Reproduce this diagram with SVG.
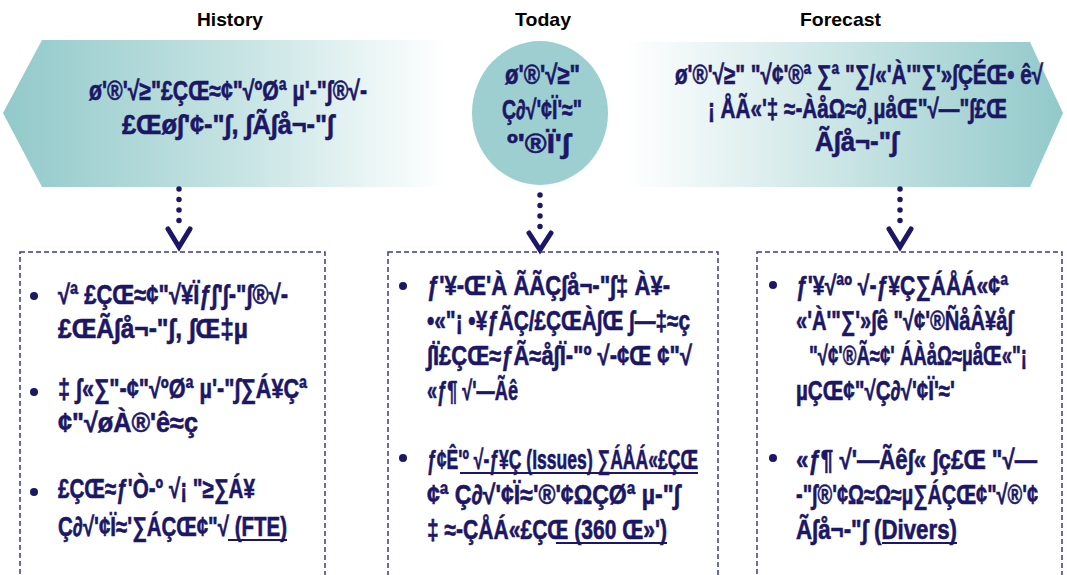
<svg xmlns="http://www.w3.org/2000/svg" width="1067" height="575" viewBox="0 0 1067 575">
<defs>
<style>
.hd{font-family:"Liberation Sans",Arial,sans-serif;font-weight:bold;font-size:19px;fill:#000}
.t{font-family:"Liberation Sans Narrow","Liberation Sans",Arial,sans-serif;font-weight:bold;font-size:27px;fill:#1b1766;stroke:#1b1766;stroke-width:0.6}
.ul{stroke:#1b1766;stroke-width:2}
.box{fill:none;stroke:#3a3a8a;stroke-width:1.5;stroke-dasharray:5 3}
.dots{stroke:#1b1766;stroke-width:5.5;stroke-linecap:round;stroke-dasharray:0 10.5;fill:none}
.chev{stroke:#1b1766;stroke-width:5;fill:none;stroke-linecap:round;stroke-linejoin:miter}
.bul{fill:#1b1766}
</style>
<linearGradient id="gL" x1="0" y1="0" x2="1" y2="0">
<stop offset="0" stop-color="#92c9ca"/>
<stop offset="0.55" stop-color="#c8e4e4"/>
<stop offset="1" stop-color="#ffffff"/>
</linearGradient>
<linearGradient id="gR" x1="0" y1="0" x2="1" y2="0">
<stop offset="0" stop-color="#ffffff"/>
<stop offset="0.45" stop-color="#cfe7e7"/>
<stop offset="1" stop-color="#92c9ca"/>
</linearGradient>
<linearGradient id="gLine" x1="0" y1="0" x2="1" y2="0">
<stop offset="0" stop-color="#000"/>
<stop offset="1" stop-color="#666"/>
</linearGradient>
</defs>

<g id="headers">
<text class="hd" x="197" y="26" textLength="66" lengthAdjust="spacingAndGlyphs">History</text>
<text class="hd" x="515" y="26" textLength="56" lengthAdjust="spacingAndGlyphs">Today</text>
<text class="hd" x="800" y="26" textLength="81" lengthAdjust="spacingAndGlyphs">Forecast</text>
<line x1="5" y1="32" x2="456" y2="32" stroke="url(#gLine)" stroke-width="1.5"/>
<line x1="470" y1="32" x2="610" y2="32" stroke="url(#gLine)" stroke-width="1.5"/>
<line x1="623" y1="32" x2="1063" y2="32" stroke="url(#gLine)" stroke-width="1.5"/>
</g>

<g id="history-shape">
<polygon points="3,113 42,40 446,40 446,187 42,187" fill="url(#gL)"/>
<text class="t" x="89" y="100" textLength="278" lengthAdjust="spacingAndGlyphs">ø'®'√≥"£ÇŒ≈¢"√ºØª µ'-"∫®√-</text>
<text class="t" x="122" y="134" textLength="212" lengthAdjust="spacingAndGlyphs">£Œø∫'¢-"∫, ∫Ã∫å¬-"∫</text>
</g>

<g id="today-shape">
<ellipse cx="540" cy="113" rx="68" ry="72" fill="#9dcfd0"/>
<text class="t" x="505" y="84" textLength="75" lengthAdjust="spacingAndGlyphs">ø'®'√≥"</text>
<text class="t" x="502" y="119" textLength="80" lengthAdjust="spacingAndGlyphs">Ç∂√'¢Ï'≈"</text>
<text class="t" x="507" y="153" textLength="63" lengthAdjust="spacingAndGlyphs">º'®Ï'∫</text>
</g>

<g id="forecast-shape">
<polygon points="625,42 1030,42 1063,113 1030,187 625,187" fill="url(#gR)"/>
<text class="t" x="675" y="84" textLength="368" lengthAdjust="spacingAndGlyphs">ø'®'√≥"  "√¢'®ª ∑ª "∑/«'À'"∑'»∫ÇÉŒ• ê√</text>
<text class="t" x="708" y="118" textLength="299" lengthAdjust="spacingAndGlyphs">¡ ÅÃ«'‡ ≈-ÀåΩ≈∂¸µåŒ"√—"∫£Œ</text>
<text class="t" x="815" y="151" textLength="83" lengthAdjust="spacingAndGlyphs">Ã∫å¬-"∫</text>
</g>

<g id="connectors">
<line class="dots" x1="179" y1="189" x2="179" y2="225"/>
<polyline class="chev" points="168,229 179,247 190,229"/>
<line class="dots" x1="540" y1="195" x2="540" y2="230"/>
<polyline class="chev" points="529,233 540,250 551,233"/>
<line class="dots" x1="900" y1="189" x2="900" y2="225"/>
<polyline class="chev" points="889,229 900,247 911,229"/>
</g>

<g id="history-box">
<rect class="box" x="20" y="252" width="305" height="340"/>
<circle class="bul" cx="34" cy="296" r="4"/>
<text class="t" x="58" y="304" textLength="230" lengthAdjust="spacingAndGlyphs">√ª £ÇŒ≈¢"√¥Ïƒ∫'∫-"∫®√-</text>
<text class="t" x="58" y="338" textLength="190" lengthAdjust="spacingAndGlyphs">£ŒÃ∫å¬-"∫, ∫Œ‡µ</text>
<circle class="bul" cx="34" cy="392" r="4"/>
<text class="t" x="58" y="398" textLength="249" lengthAdjust="spacingAndGlyphs">‡ ∫«∑"-¢"√ºØª µ'-"∫∑Á¥Çª</text>
<text class="t" x="58" y="432" textLength="140" lengthAdjust="spacingAndGlyphs">¢"√øÀ®'ê≈ç</text>
<circle class="bul" cx="34" cy="492" r="4"/>
<text class="t" x="58" y="498" textLength="197" lengthAdjust="spacingAndGlyphs">£ÇŒ≈ƒ'Ò-º √¡ "≥∑Á¥</text>
<text class="t" x="58" y="536" textLength="229" lengthAdjust="spacingAndGlyphs">Ç∂√'¢Ï≈'∑ÁÇŒ¢"√ (FTE)</text>
<line class="ul" x1="228" y1="540" x2="287" y2="540"/>
</g>

<g id="today-box">
<rect class="box" x="388" y="252" width="330" height="340"/>
<circle class="bul" cx="403" cy="286" r="4"/>
<text class="t" x="427" y="295" textLength="243" lengthAdjust="spacingAndGlyphs">ƒ'¥-Œ'À ÃÃÇ∫å¬-"∫‡ À¥-</text>
<text class="t" x="427" y="330" textLength="263" lengthAdjust="spacingAndGlyphs">•«"¡ •¥ƒÃÇ/£ÇŒÀ∫Œ ∫—‡≈ç</text>
<text class="t" x="427" y="365" textLength="265" lengthAdjust="spacingAndGlyphs">∫Ï£ÇŒ≈ƒÃ≈å∫Ï-"º √-¢Œ ¢"√</text>
<text class="t" x="427" y="400" textLength="91" lengthAdjust="spacingAndGlyphs">«ƒ¶ √'—Ãê</text>
<circle class="bul" cx="403" cy="458" r="4"/>
<text class="t" x="427" y="469" textLength="271" lengthAdjust="spacingAndGlyphs">ƒ¢Ê'º √-ƒ¥Ç (Issues) ∑ÁÅÁ«£ÇŒ</text>
<line class="ul" x1="460" y1="473" x2="698" y2="473"/>
<text class="t" x="427" y="504" textLength="253" lengthAdjust="spacingAndGlyphs">¢ª Ç∂√'¢Ï≈'®'¢ΩÇØª µ-"∫</text>
<text class="t" x="427" y="539" textLength="240" lengthAdjust="spacingAndGlyphs">‡ ≈-ÇÅÁ«£ÇŒ (360 Œ»')</text>
<line class="ul" x1="556" y1="543" x2="667" y2="543"/>
</g>

<g id="forecast-box">
<rect class="box" x="757" y="252" width="305" height="340"/>
<circle class="bul" cx="773" cy="285" r="4"/>
<text class="t" x="796" y="295" textLength="212" lengthAdjust="spacingAndGlyphs">ƒ'¥√ªº √-ƒ¥Ç∑ÁÅÁ«¢ª</text>
<text class="t" x="796" y="330" textLength="217" lengthAdjust="spacingAndGlyphs">«'À'"∑'»∫ê "√¢'®ÑåÂ¥å∫</text>
<text class="t" x="809" y="365" textLength="218" lengthAdjust="spacingAndGlyphs">"√¢'®Ã≈¢' ÁÀåΩ≈µåŒ«"¡</text>
<text class="t" x="796" y="400" textLength="159" lengthAdjust="spacingAndGlyphs">µÇŒ¢"√Ç∂√'¢Ï'≈'</text>
<circle class="bul" cx="773" cy="458" r="4"/>
<text class="t" x="796" y="469" textLength="241" lengthAdjust="spacingAndGlyphs">«ƒ¶ √'—Ãê∫« ∫ç£Œ "√—</text>
<text class="t" x="796" y="504" textLength="242" lengthAdjust="spacingAndGlyphs">-"∫®'¢Ω≈Ω≈µ∑ÁÇŒ¢"√®'¢</text>
<text class="t" x="796" y="539" textLength="161" lengthAdjust="spacingAndGlyphs">Ã∫å¬-"∫ (Divers)</text>
<line class="ul" x1="882" y1="543" x2="957" y2="543"/>
</g>
</svg>
